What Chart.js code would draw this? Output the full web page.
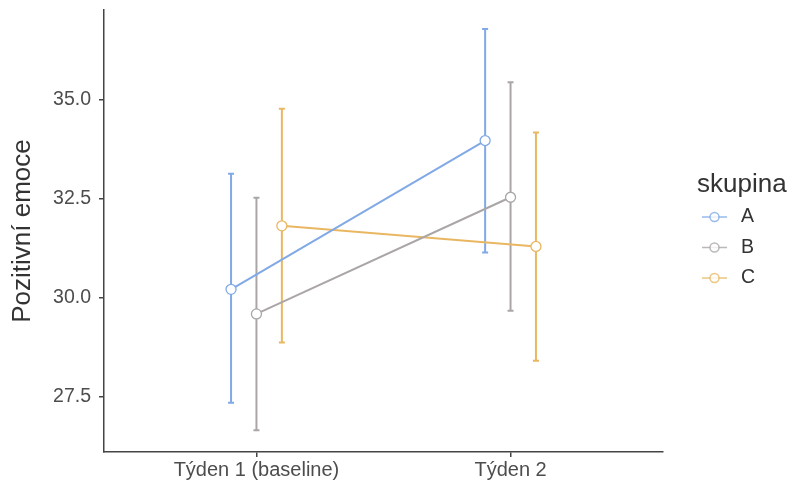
<!DOCTYPE html>
<html><head><meta charset="utf-8">
<script src="https://cdn.jsdelivr.net/npm/chart.js@4"></script>
<style>html,body{margin:0;padding:0;background:#fff}#wrap{width:792px;height:489px}</style>
</head><body><div id="wrap"><canvas id="c" width="792" height="489"></canvas></div>
<script>
const categories = ["Týden 1 (baseline)", "Týden 2"];
const groups = ["A", "B", "C"];
const dodge = [-0.1, 0, 0.1];
const meanA = [30.21, 33.96];
const meanB = [29.59, 32.53];
const meanC = [31.81, 31.29];
const lowA = [27.35, 31.14];
const lowB = [26.66, 29.67];
const lowC = [28.87, 28.41];
const highA = [33.12, 36.77];
const highB = [32.52, 35.43];
const highC = [34.76, 34.16];
const yTicks = [27.5, 30.0, 32.5, 35.0];
const colors = ["#80A9E6", "#ABA6A6", "#E9B762"];

const means = [meanA, meanB, meanC];
const lows = [lowA, lowB, lowC];
const highs = [highA, highB, highC];
const FONT = "'Liberation Sans', Arial, sans-serif";

const datasets = groups.map((g, i) => ({
  label: g,
  data: categories.map((c, k) => ({x: k + 1 + dodge[i], y: means[i][k], lo: lows[i][k], hi: highs[i][k]})),
  borderColor: colors[i],
  backgroundColor: "#ffffff",
  pointBorderColor: colors[i],
  pointBackgroundColor: "#ffffff",
  pointRadius: 5,
  pointBorderWidth: 1.3,
  borderWidth: 2,
  showLine: true,
  tension: 0
}));

const errorBars = {
  id: "errorBars",
  beforeDatasetsDraw(chart) {
    const ctx = chart.ctx, xs = chart.scales.x, ys = chart.scales.y;
    ctx.save();
    chart.data.datasets.forEach(ds => {
      ctx.strokeStyle = ds.borderColor;
      ctx.lineWidth = 2;
      ds.data.forEach(p => {
        const x = xs.getPixelForValue(p.x);
        const y1 = ys.getPixelForValue(p.lo), y2 = ys.getPixelForValue(p.hi);
        ctx.beginPath();
        ctx.moveTo(x, y1); ctx.lineTo(x, y2);
        ctx.moveTo(x - 3, y1); ctx.lineTo(x + 3, y1);
        ctx.moveTo(x - 3, y2); ctx.lineTo(x + 3, y2);
        ctx.stroke();
      });
    });
    ctx.restore();
  }
};

const customLegend = {
  id: "customLegend",
  afterDraw(chart) {
    const ctx = chart.ctx;
    ctx.save();
    ctx.fillStyle = "#333333";
    ctx.font = "26px " + FONT;
    ctx.textBaseline = "alphabetic";
    ctx.textAlign = "left";
    ctx.fillText("skupina", 697, 192);
    chart.data.datasets.forEach((ds, i) => {
      const y = 217 + i * 30.5;
      ctx.globalAlpha = 0.8;
      ctx.strokeStyle = ds.borderColor;
      ctx.lineWidth = 1.5;
      ctx.beginPath(); ctx.moveTo(702, y); ctx.lineTo(727, y); ctx.stroke();
      ctx.beginPath(); ctx.arc(714.5, y, 4.5, 0, Math.PI * 2);
      ctx.fillStyle = "#ffffff"; ctx.fill(); ctx.stroke();
      ctx.globalAlpha = 1;
      ctx.fillStyle = "#333333";
      ctx.font = "19.5px " + FONT;
      ctx.textBaseline = "middle";
      ctx.fillText(ds.label, 741, y);
    });
    ctx.restore();
  }
};

new Chart(document.getElementById("c"), {
  type: "scatter",
  data: {datasets},
  plugins: [errorBars, customLegend],
  options: {
    responsive: false,
    animation: false,
    events: [],
    layout: {padding: {left: 0, top: 10, right: 129, bottom: 0}},
    plugins: {legend: {display: false}, tooltip: {enabled: false}},
    scales: {
      x: {
        type: "linear", min: 0.4, max: 2.6,
        afterBuildTicks(s) { s.ticks = categories.map((c, k) => ({value: k + 1})); },
        afterFit(s) { s.height = 37; s.paddingLeft = 0; s.paddingRight = 0; },
        ticks: {
          callback: v => categories[Math.round(v) - 1] || "",
          color: "#4d4d4d", font: {family: FONT, size: 20}, padding: 1, maxRotation: 0
        },
        grid: {display: true, drawOnChartArea: false, tickLength: 5, color: "#444444", lineWidth: 1.5},
        border: {display: true, color: "#444444", width: 1.5}
      },
      y: {
        type: "linear", min: 26.11, max: 37.25,
        afterBuildTicks(s) { s.ticks = yTicks.map(v => ({value: v})); },
        afterFit(s) { s.width = 104; s.paddingTop = 0; s.paddingBottom = 0; },
        ticks: {
          callback: v => v.toFixed(1),
          color: "#4d4d4d", font: {family: FONT, size: 19.5}, padding: 8
        },
        grid: {display: true, drawOnChartArea: false, tickLength: 5, color: "#444444", lineWidth: 1.5},
        border: {display: true, color: "#444444", width: 1.5},
        title: {display: true, text: "Pozitivní emoce", color: "#333333",
          font: {family: FONT, size: 26}, padding: {top: 7, bottom: 0}}
      }
    }
  }
});
</script></body></html>
